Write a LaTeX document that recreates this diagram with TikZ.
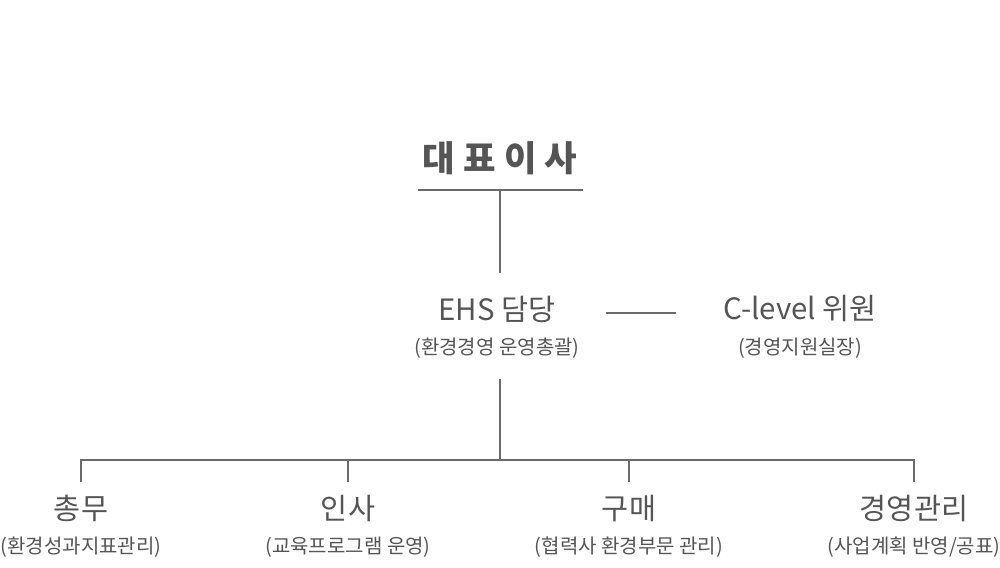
\documentclass[tikz,border=0pt]{standalone}
\usepackage{fontspec}
\setmainfont{Noto Sans CJK KR}
\usepackage{tikz}
\usetikzlibrary{positioning}

\definecolor{txtgray}{HTML}{555555}
\definecolor{linegray}{HTML}{6A6A6A}

\begin{document}
\begin{tikzpicture}[
  x=0.5pt, y=-0.5pt,
  head/.style={inner sep=0pt, text=txtgray, font=\bfseries\fontsize{17.7}{20}\selectfont},
  title/.style={inner sep=0pt, text=txtgray, font=\fontsize{14.7}{17}\selectfont},
  note/.style={inner sep=0pt, text=txtgray, font=\fontsize{10}{12}\selectfont},
  line/.style={draw=linegray, line width=1pt}
]
\useasboundingbox (0,0) rectangle (1000,567);

\node[head] (ceo) at (500,158) {대 표 이 사};
\coordinate (ceoL) at (418,190);
\coordinate (ceoR) at (583,190);
\coordinate (ceoM) at (500,190);

\node[title] (ehs) at (497,309) {EHS 담당};
\node[note, below=7.5pt of ehs] (ehsnote) {(환경경영 운영총괄)};
\node[title] (clevel) at (800,309) {C-level 위원};
\node[note, below=7.5pt of clevel] (clevelnote) {(경영지원실장)};

\coordinate (bus) at (500,460);

\node[title] (gen) at (81,508) {총무};
\node[note, below=7.5pt of gen] (gennote) {(환경성과지표관리)};
\node[title] (hr) at (348,508) {인사};
\node[note, below=7.5pt of hr] (hrnote) {(교육프로그램 운영)};
\node[title] (buy) at (629,508) {구매};
\node[note, below=7.5pt of buy] (buynote) {(협력사 환경부문 관리)};
\node[title] (mgmt) at (914,508) {경영관리};
\node[note, below=7.5pt of mgmt] (mgmtnote) {(사업계획 반영/공표)};

\draw[line] (ceoL) -- (ceoR);
\draw[line, shorten >=11pt] (ceoM) -- (ehs.north -| ceoM);
\draw[line, shorten <=25pt, shorten >=23.5pt] ([yshift=-2pt]ehs.east) -- ([yshift=-2pt]clevel.west);
\draw[line, shorten <=10pt] (ehsnote.south -| bus) -- (bus);
\draw[line, shorten <=6pt, shorten >=6pt] (gen.north) |- (bus) -| (mgmt.north);
\draw[line, shorten <=6pt] (hr.north) -- (hr.north |- bus);
\draw[line, shorten <=6pt] (buy.north) -- (buy.north |- bus);

\end{tikzpicture}
\end{document}
